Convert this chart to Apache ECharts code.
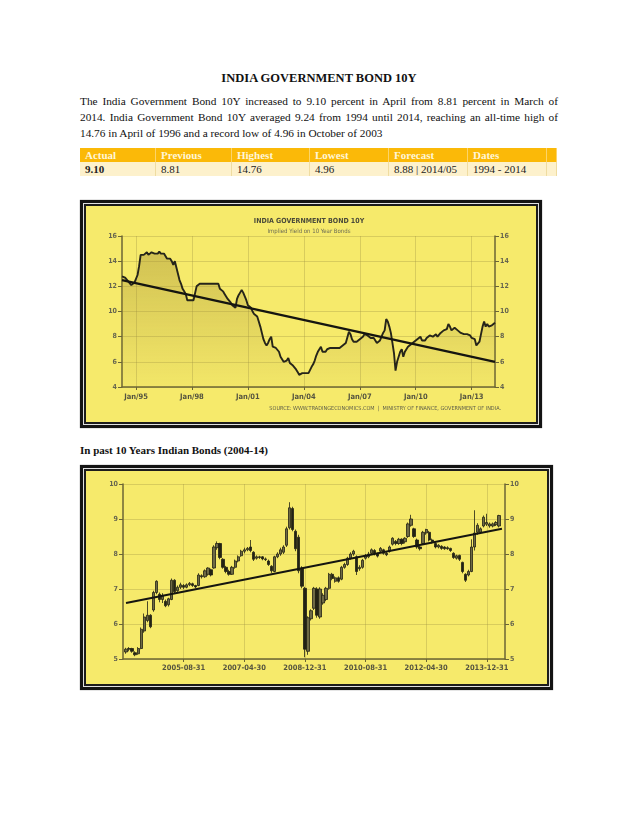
<!DOCTYPE html>
<html><head><meta charset="utf-8">
<script src="https://cdn.jsdelivr.net/npm/echarts@6/dist/echarts.min.js"></script>
<style>
html,body{margin:0;padding:0;background:#fff;}
body{width:638px;height:826px;position:relative;overflow:hidden;font-family:'Liberation Serif','Times New Roman',serif;color:#111;}
.abs{position:absolute;}
#title{left:0;width:638px;top:70px;text-align:center;font-weight:bold;font-size:12.5px;line-height:16px;}
.pl{position:absolute;left:80px;width:478px;font-size:11.3px;line-height:15px;text-align:justify;text-align-last:justify;}
.pl.last{text-align-last:left;}
.cell{position:absolute;height:14px;line-height:14px;font-size:11px;padding-left:5px;box-sizing:border-box;}
.hd{top:148px;background:#FBB908;color:#fff6d8;font-weight:bold;border-right:1px solid #fcd46a;}
.dt{top:162px;background:#FDF1CC;color:#222;border-right:1px solid #efdca0;}
.frame{position:absolute;border:3px solid #141414;background:#e0e0e0;padding:1px;box-sizing:border-box;box-shadow:0 0 1px #666;}
.inner{border:2px solid #1c1c1c;background:#F6EA6B;width:100%;height:100%;box-sizing:border-box;position:relative;}
.chart{position:absolute;left:0;top:0;}
#sub{left:80px;top:443px;font-weight:bold;font-size:11px;line-height:14px;}
</style></head>
<body>
<div id="title" class="abs">INDIA GOVERNMENT BOND 10Y</div>
<div class="pl" style="top:94px">The India Government Bond 10Y increased to 9.10 percent in April from 8.81 percent in March of</div>
<div class="pl" style="top:110px">2014. India Government Bond 10Y averaged 9.24 from 1994 until 2014, reaching an all-time high of</div>
<div class="pl last" style="top:126px">14.76 in April of 1996 and a record low of 4.96 in October of 2003</div>
<div id="table"></div>
<div class="frame" style="left:80px;top:200px;width:462px;height:228px;"><div class="inner"><div id="c1" class="chart" style="width:450px;height:216px;left:-2px;top:-2px"></div></div></div>
<div id="sub" class="abs">In past 10 Years Indian Bonds (2004-14)</div>
<div class="frame" style="left:80px;top:465px;width:473px;height:225px;"><div class="inner"><div id="c2" class="chart" style="width:461px;height:213px;left:-2px;top:-2px"></div></div></div>
<script>
// ---------- table ----------
var tableHeaders = ['Actual','Previous','Highest','Lowest','Forecast','Dates',''];
var tableValues = ['9.10','8.81','14.76','4.96','8.88 | 2014/05','1994 - 2014',''];
var colEdges = [80,156,232,310,389,468,547,557];
(function(){
  var t = document.getElementById('table'), html='';
  for (var i=0;i<tableHeaders.length;i++){
    var l=colEdges[i], w=colEdges[i+1]-colEdges[i];
    html += '<div class="cell hd" style="left:'+l+'px;width:'+w+'px">'+tableHeaders[i]+'</div>';
    html += '<div class="cell dt" style="left:'+l+'px;width:'+w+'px;'+(i===0?'font-weight:bold;':'')+'">'+tableValues[i]+'</div>';
  }
  t.innerHTML = html;
})();

// ---------- chart 1 data: monthly, Apr 1994 .. Apr 2014 ----------
var startYear1 = 1994, startMonth1 = 3; // April
var yield1994 = [12.8,12.8,12.7,12.6,12.4,12.3,12.1,12.2,12.3];
var yield1995 = [12.3,12.9,13.6,14.5,14.6,14.5,14.6,14.7,14.5,14.6,14.7,14.6];
var yield1996 = [14.6,14.5,14.6,14.76,14.6,14.5,14.6,14.5,14.2,14.3,14.2,14.0];
var yield1997 = [13.7,14.0,13.5,13.0,12.5,12.2,11.8,11.6,11.4,10.9,10.9,10.9];
var yield1998 = [10.9,10.9,10.9,12.0,12.1,12.2,12.2,12.2,12.2,12.2,12.2,12.2];
var yield1999 = [12.2,12.2,12.2,12.2,12.2,12.2,11.8,11.7,11.6,11.4,11.3,11.0];
var yield2000 = [11.0,10.7,10.5,10.6,10.3,11.0,11.3,11.5,11.7,11.5,11.2,10.9];
var yield2001 = [10.5,10.4,10.3,10.0,9.8,9.7,9.6,9.2,8.8,8.3,7.8,7.5];
var yield2002 = [7.3,7.5,7.8,8.0,7.2,7.2,7.1,7.0,6.8,6.4,6.2,6.0];
var yield2003 = [6.0,6.1,6.3,5.9,5.8,5.7,5.6,5.4,5.2,4.96,5.0,5.1];
var yield2004 = [5.1,5.1,5.1,5.1,5.2,5.6,5.8,6.1,6.5,6.8,7.0,7.2];
var yield2005 = [6.8,6.9,6.8,7.0,7.0,7.1,7.0,7.1,7.1,7.1,7.2,7.1];
var yield2006 = [7.2,7.3,7.4,7.5,7.6,8.4,8.2,7.8,7.6,7.5,7.6,7.7];
var yield2007 = [7.8,7.9,8.0,8.2,8.2,8.1,8.1,7.9,7.8,7.9,7.7,7.5];
var yield2008 = [7.6,7.7,8.0,8.3,8.5,9.4,9.2,8.8,8.3,7.5,6.7,5.3];
var yield2009 = [6.0,6.4,6.8,7.0,6.4,6.8,7.0,7.2,7.3,7.4,7.4,7.6];
var yield2010 = [7.6,7.8,7.9,8.0,7.7,7.6,7.7,7.9,8.0,8.1,8.1,8.0];
var yield2011 = [8.1,8.2,8.0,8.1,8.3,8.3,8.5,8.4,8.6,9.0,8.8,8.5];
var yield2012 = [8.6,8.7,8.6,8.5,8.5,8.3,8.2,8.2,8.2,8.2,8.2,8.1];
var yield2013 = [7.9,7.9,7.8,7.3,7.2,7.6,8.2,8.8,9.2,8.8,9.0,8.8];
var yield2014 = [8.8,8.9,8.81,9.10];
var trend1Values = [12.5, 6.0];
var yTicks1 = {min:4, max:16, step:2};

var yields1 = [].concat(yield1994,yield1995,yield1996,yield1997,yield1998,yield1999,yield2000,
  yield2001,yield2002,yield2003,yield2004,yield2005,yield2006,yield2007,yield2008,yield2009,
  yield2010,yield2011,yield2012,yield2013,yield2014);
var monNames = ['Jan','Feb','Mar','Apr','May','Jun','Jul','Aug','Sep','Oct','Nov','Dec'];
var cats1 = [];
for (var k=0;k<yields1.length;k++){
  var mm=(startMonth1+k)%12, yy=startYear1+Math.floor((startMonth1+k)/12);
  cats1.push(monNames[mm]+'/'+String(yy).slice(2));
}
function showJan3(idx, val){
  if (val.indexOf('Jan/')!==0) return false;
  var y = 1900 + parseInt(val.slice(4),10); if (y<1950) y+=100;
  return (y-1995)%3===0;
}
var axisFont = "'Liberation Sans Narrow','Arial Narrow','DejaVu Sans Condensed','Liberation Sans',sans-serif";
var gridCol = 'rgba(160,150,70,0.35)';
var axisCol = '#6b6535';

var c1 = echarts.init(document.getElementById('c1'));
c1.setOption({
  animation:false,
  title:[
    {text:'INDIA GOVERNMENT BOND 10Y', subtext:'Implied Yield on 10 Year Bonds', left:'center', top:9, itemGap:3,
     textStyle:{fontSize:7, fontWeight:'bold', color:'#4a4a3a', fontFamily:axisFont},
     subtextStyle:{fontSize:6, color:'#6a6a55', fontFamily:axisFont}},
    {text:'SOURCE: WWW.TRADINGECONOMICS.COM  |  MINISTRY OF FINANCE, GOVERNMENT OF INDIA.', right:28, bottom:3,
     textStyle:{fontSize:5.5, fontWeight:'normal', color:'#5e5e4a', fontFamily:axisFont}}
  ],
  grid:{left:38, right:39, top:32, bottom:33},
  xAxis:{type:'category', data:cats1, boundaryGap:false,
    axisLine:{lineStyle:{color:axisCol, width:1.5}},
    axisTick:{show:true, interval:showJan3, length:3, lineStyle:{color:axisCol}},
    axisLabel:{interval:showJan3, fontSize:7.5, fontWeight:'bold', color:'#55543f', fontFamily:axisFont, margin:6},
    splitLine:{show:true, interval:showJan3, lineStyle:{color:gridCol, width:1}}},
  yAxis:[
    {type:'value', min:yTicks1.min, max:yTicks1.max, interval:yTicks1.step, position:'left',
     axisLine:{show:true, lineStyle:{color:axisCol, width:1.5}},
     axisTick:{show:true, length:4, lineStyle:{color:axisCol}},
     axisLabel:{fontSize:7, color:'#66654f', fontWeight:'bold', fontFamily:axisFont, margin:5},
     splitLine:{show:true, lineStyle:{color:gridCol, width:1}}},
    {type:'value', min:yTicks1.min, max:yTicks1.max, interval:yTicks1.step, position:'right',
     axisLine:{show:true, lineStyle:{color:axisCol, width:1.5}},
     axisTick:{show:true, length:4, lineStyle:{color:axisCol}},
     axisLabel:{fontSize:7, color:'#66654f', fontWeight:'bold', fontFamily:axisFont, margin:5},
     splitLine:{show:false}}
  ],
  series:[
    {type:'line', data:yields1, symbol:'none', yAxisIndex:0,
     lineStyle:{color:'#26251a', width:1.9},
     areaStyle:{color:new echarts.graphic.LinearGradient(0,0,0,1,[
       {offset:0,color:'rgba(160,140,50,0.6)'},{offset:1,color:'rgba(160,140,50,0.05)'}])}},
    {type:'line', data:[[cats1[0],trend1Values[0]],[cats1[cats1.length-1],trend1Values[1]]], symbol:'none',
     lineStyle:{color:'#151510', width:2.3}, z:5}
  ]
});

// ---------- chart 2 data: monthly candles Jan 2004 .. Apr 2014 [open, close, low, high] ----------
var candles2004 = [[5.20,5.28,5.15,5.32],[5.28,5.30,5.22,5.34],[5.30,5.22,5.18,5.32],[5.18,5.12,5.08,5.22],[5.15,5.30,5.12,5.34],[5.30,5.85,5.28,5.90],[5.80,6.20,5.75,6.30],[6.10,6.25,6.05,6.65],[6.25,5.92,5.88,6.28],[6.40,6.90,6.35,6.95],[6.90,7.22,6.85,7.25],[6.85,6.70,6.62,6.90]];
var candles2005 = [[6.70,6.82,6.60,6.88],[6.65,6.52,6.48,6.70],[6.55,6.72,6.50,6.75],[6.70,7.25,6.68,7.30],[7.25,6.92,6.88,7.28],[6.95,7.05,6.92,7.10],[7.05,7.12,7.00,7.18],[7.10,7.05,7.00,7.14],[7.05,7.12,7.02,7.16],[7.12,7.16,7.08,7.20],[7.15,7.10,7.06,7.18],[7.10,7.06,7.02,7.12]];
var candles2006 = [[7.10,7.40,7.08,7.45],[7.38,7.35,7.30,7.42],[7.35,7.52,7.32,7.56],[7.42,7.60,7.38,7.62],[7.55,7.40,7.36,7.58],[7.60,8.20,7.58,8.25],[8.18,8.30,8.12,8.36],[8.30,7.90,7.85,8.32],[7.85,7.62,7.58,7.88],[7.62,7.50,7.45,7.66],[7.50,7.42,7.38,7.55],[7.42,7.62,7.40,7.66]];
var candles2007 = [[7.62,7.80,7.58,7.84],[7.80,7.92,7.76,7.96],[7.95,8.08,7.92,8.12],[8.08,8.12,8.02,8.18],[8.12,8.16,8.08,8.20],[8.20,8.10,8.05,8.40],[8.05,7.85,7.80,8.08],[7.88,7.92,7.84,7.96],[7.92,7.90,7.86,7.95],[7.92,7.86,7.82,7.94],[7.86,7.84,7.80,7.90],[7.80,7.70,7.66,7.84]];
var candles2008 = [[7.65,7.52,7.46,7.68],[7.50,7.92,7.48,7.95],[7.92,8.00,7.88,8.05],[8.00,8.12,7.95,8.18],[8.05,8.20,8.00,8.25],[8.25,8.72,8.20,8.78],[8.75,9.32,8.70,9.48],[9.30,8.70,8.65,9.35],[8.65,8.15,8.08,8.70],[8.48,7.52,7.45,8.55],[7.60,7.08,7.02,7.65],[7.02,5.28,5.05,7.06]];
var candles2009 = [[5.22,6.18,5.12,6.22],[6.15,6.38,6.10,6.42],[6.45,7.02,6.40,7.06],[7.00,6.25,6.18,7.05],[6.20,7.00,6.15,7.05],[6.60,6.82,6.55,6.88],[6.70,7.02,6.65,7.06],[7.02,7.42,6.98,7.46],[7.42,7.30,7.25,7.46],[7.22,7.32,7.18,7.36],[7.32,7.22,7.18,7.36],[7.28,7.62,7.25,7.66]];
var candles2010 = [[7.62,7.70,7.58,7.75],[7.70,7.88,7.66,7.92],[7.88,8.00,7.84,8.05],[8.00,8.08,7.95,8.12],[7.92,7.50,7.40,7.96],[7.58,7.62,7.52,7.68],[7.62,7.82,7.58,7.86],[7.88,7.95,7.84,8.00],[7.92,8.00,7.88,8.06],[8.02,8.12,7.98,8.16],[8.10,8.02,7.96,8.14],[8.00,7.94,7.90,8.04]];
var candles2011 = [[8.08,8.16,8.04,8.20],[8.12,8.02,7.98,8.15],[8.02,7.98,7.94,8.06],[8.08,8.20,8.04,8.24],[8.28,8.45,8.24,8.48],[8.36,8.30,8.25,8.40],[8.30,8.42,8.26,8.46],[8.42,8.30,8.25,8.45],[8.35,8.45,8.30,8.48],[8.50,8.86,8.46,8.90],[8.82,9.00,8.78,9.12],[8.72,8.50,8.46,8.75]];
var candles2012 = [[8.40,8.20,8.15,8.44],[8.20,8.15,8.10,8.25],[8.30,8.62,8.26,8.66],[8.60,8.70,8.55,8.72],[8.62,8.40,8.36,8.66],[8.40,8.35,8.30,8.44],[8.30,8.20,8.16,8.34],[8.20,8.25,8.16,8.28],[8.22,8.16,8.12,8.25],[8.20,8.15,8.12,8.22],[8.18,8.15,8.12,8.22],[8.16,8.10,8.06,8.18]];
var candles2013 = [[8.02,7.90,7.86,8.05],[7.88,7.95,7.84,7.98],[7.96,7.85,7.80,7.98],[7.76,7.50,7.45,7.78],[7.42,7.25,7.20,7.45],[7.40,7.50,7.36,7.55],[7.50,8.20,7.48,8.42],[8.20,8.60,8.10,9.25],[8.62,8.82,8.55,8.88],[8.62,8.72,8.58,8.76],[8.80,9.05,8.76,9.10],[8.85,8.90,8.80,9.15]];
var candles2014 = [[8.80,8.86,8.75,8.90],[8.80,8.86,8.76,8.90],[8.84,8.90,8.80,8.94],[8.80,9.10,8.76,9.12]];
var trend2Values = [6.6, 8.72];
var yTicks2 = {min:5, max:10, step:1};
var axisStart2 = {year:2003, month:11}; // Dec 2003
var axisMonths2 = 127;                   // Dec 2003 .. Jun 2014
var labelEvery2 = 20;

var candles = [].concat(candles2004,candles2005,candles2006,candles2007,candles2008,candles2009,
  candles2010,candles2011,candles2012,candles2013,candles2014);
var cats2 = [];
for (var j=0;j<axisMonths2;j++){
  var m2=(axisStart2.month+j)%12, y2=axisStart2.year+Math.floor((axisStart2.month+j)/12);
  var last = new Date(y2, m2+1, 0).getDate();
  cats2.push(y2+'-'+(m2<9?'0':'')+(m2+1)+'-'+last);
}
var candleData = candles.map(function(c,i){ return [cats2[i+1]].concat(c); });
function show20(idx){ return idx>0 && idx%labelEvery2===0; }

var c2 = echarts.init(document.getElementById('c2'));
c2.setOption({
  animation:false,
  grid:{left:39, right:40, top:15, bottom:23},
  xAxis:{type:'category', data:cats2, boundaryGap:false,
    axisLine:{lineStyle:{color:axisCol, width:1.5}},
    axisTick:{show:true, interval:show20, length:3, lineStyle:{color:axisCol}},
    axisLabel:{interval:show20, fontSize:7.5, fontWeight:'bold', color:'#55543f', fontFamily:axisFont, margin:5},
    splitLine:{show:true, interval:show20, lineStyle:{color:gridCol, width:1}}},
  yAxis:[
    {type:'value', min:yTicks2.min, max:yTicks2.max, interval:yTicks2.step, position:'left',
     axisLine:{show:true, lineStyle:{color:axisCol, width:1.5}},
     axisTick:{show:true, length:4, lineStyle:{color:axisCol}},
     axisLabel:{fontSize:7, color:'#66654f', fontWeight:'bold', fontFamily:axisFont, margin:5},
     splitLine:{show:true, lineStyle:{color:gridCol, width:1}}},
    {type:'value', min:yTicks2.min, max:yTicks2.max, interval:yTicks2.step, position:'right',
     axisLine:{show:true, lineStyle:{color:axisCol, width:1.5}},
     axisTick:{show:true, length:4, lineStyle:{color:axisCol}},
     axisLabel:{fontSize:7, color:'#66654f', fontWeight:'bold', fontFamily:axisFont, margin:5},
     splitLine:{show:false}}
  ],
  series:[
    {type:'candlestick', data:candleData, encode:{x:0, y:[1,2,3,4]}, barWidth:2.8,
     itemStyle:{color:'#6e6a45', color0:'#222214', borderColor:'#222214', borderColor0:'#222214', borderWidth:0.8}},
    {type:'line', data:[[cats2[1],trend2Values[0]],[cats2[axisMonths2-2],trend2Values[1]]], symbol:'none',
     lineStyle:{color:'#151510', width:2.0}, z:5}
  ]
});
</script>
</body></html>
